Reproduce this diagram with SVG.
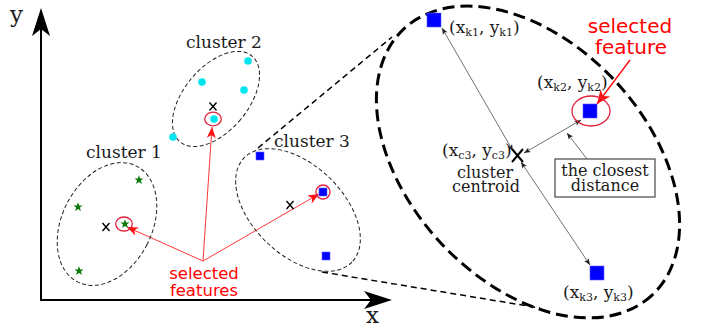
<svg xmlns="http://www.w3.org/2000/svg" width="706" height="331" viewBox="0 0 706 331">
<style>
.serif{font-family:"DejaVu Serif","Liberation Serif",serif;fill:#1a1a1a}
.sans{font-family:"DejaVu Sans","Liberation Sans",sans-serif}
.red{fill:#ff0000}
.cl{fill:none;stroke:#222;stroke-width:1;stroke-dasharray:4,2.5}
.sel{fill:none;stroke:#e0203c;stroke-width:1.3}
.cross{stroke:#000;stroke-width:1.4;fill:none}
.star{fill:#0a7a0a}
.dot{fill:#00e5ee}
.sq{fill:#0000ff;stroke:#5a5aff;stroke-width:0.6}
.rl{stroke:#ff2020;stroke-width:0.9;fill:none}
.bl{stroke:#333;stroke-width:0.7;fill:none}
.sub{font-size:11px}
</style>
<defs>
<marker id="ra" viewBox="-12 -6 14 12" refX="0" refY="0" markerWidth="14" markerHeight="12" markerUnits="userSpaceOnUse" orient="auto">
<path d="M0,0 L-11,-4.5 L-8,0 L-11,4.5 Z" fill="#ff1010"/>
</marker>
<marker id="ra2" viewBox="-16 -8 18 16" refX="0" refY="0" markerWidth="18" markerHeight="16" markerUnits="userSpaceOnUse" orient="auto">
<path d="M0,0 L-14,-6 L-10,0 L-14,6 Z" fill="#ff1010"/>
</marker>
<marker id="ba" viewBox="-8 -4 10 8" refX="0" refY="0" markerWidth="10" markerHeight="8" markerUnits="userSpaceOnUse" orient="auto-start-reverse">
<path d="M0,0 L-6.5,-2.6 L-5,0 L-6.5,2.6 Z" fill="#222"/>
</marker>
<path id="st" d="M0,-4.8 L1.2,-1.6 L4.6,-1.5 L1.9,0.6 L2.9,3.9 L0,2 L-2.9,3.9 L-1.9,0.6 L-4.6,-1.5 L-1.2,-1.6 Z"/>
</defs>

<g id="axes">
<line x1="41" y1="300" x2="41" y2="24" stroke="#000" stroke-width="2"/>
<path d="M41,8 L50,36 L41,29 L32,36 Z" fill="#000"/>
<line x1="40" y1="300" x2="376" y2="300" stroke="#000" stroke-width="2"/>
<path d="M392,300 L364,309 L371,300 L364,291 Z" fill="#000"/>
<text x="10" y="22" class="serif" font-size="23">y</text>
<text x="366" y="323" class="serif" font-size="23">x</text>
</g>

<g id="connectors">
<line x1="258" y1="148" x2="392" y2="37" stroke="#000" stroke-width="1.5" stroke-dasharray="6,4"/>
<line x1="322" y1="272" x2="540" y2="308" stroke="#000" stroke-width="1.5" stroke-dasharray="6,4"/>
<line class="rl" x1="203" y1="261" x2="127" y2="227" marker-end="url(#ra)"/>
<line class="rl" x1="203" y1="261" x2="212" y2="127" marker-end="url(#ra)"/>
<line class="rl" x1="203" y1="261" x2="319" y2="194" marker-end="url(#ra)"/>
<line x1="630" y1="60" x2="597" y2="104" stroke="#ff1010" stroke-width="1.4" marker-end="url(#ra2)"/>
<line class="bl" x1="442" y1="28" x2="513" y2="151" marker-start="url(#ba)" marker-end="url(#ba)"/>
<line class="bl" x1="521" y1="162" x2="590" y2="265" marker-start="url(#ba)" marker-end="url(#ba)"/>
<line class="bl" x1="524" y1="153" x2="581" y2="120" marker-start="url(#ba)" marker-end="url(#ba)"/>
<line class="bl" x1="587" y1="159" x2="567" y2="133" marker-end="url(#ba)"/>
</g>

<g id="cluster1">
<ellipse class="cl" cx="107" cy="224" rx="45" ry="65" transform="rotate(27 107 224)"/>
<text x="86" y="158" class="serif" font-size="17">cluster 1</text>
<use href="#st" class="star" x="139" y="180"/>
<use href="#st" class="star" x="78" y="207"/>
<use href="#st" class="star" x="79" y="271"/>
<use href="#st" class="star" x="125" y="224"/>
<ellipse class="sel" cx="124" cy="224" rx="8.3" ry="7"/>
<path class="cross" d="M102.5,223 L109.5,231 M109.5,223 L102.5,231"/>
</g>

<g id="cluster2">
<ellipse class="cl" cx="216" cy="99" rx="32" ry="56" transform="rotate(40 216 99)"/>
<text x="186" y="48" class="serif" font-size="17">cluster 2</text>
<circle class="dot" cx="248" cy="61" r="3.8"/>
<circle class="dot" cx="202" cy="82" r="3.8"/>
<circle class="dot" cx="244" cy="90" r="3.8"/>
<circle class="dot" cx="173" cy="137" r="3.8"/>
<circle class="dot" cx="214" cy="119" r="3.8"/>
<ellipse class="sel" cx="213" cy="119" rx="8.3" ry="6.8"/>
<path class="cross" d="M209.5,102.5 L216.5,110.5 M216.5,102.5 L209.5,110.5"/>
</g>

<g id="cluster3">
<ellipse class="cl" cx="298" cy="210" rx="75" ry="45" transform="rotate(44 298 210)"/>
<text x="274" y="147" class="serif" font-size="17">cluster 3</text>
<rect class="sq" x="256" y="152" width="8" height="8"/>
<rect class="sq" x="319" y="188" width="8" height="8"/>
<rect class="sq" x="322" y="252" width="8" height="8"/>
<circle class="sel" cx="323" cy="192" r="7"/>
<path class="cross" d="M286.5,201 L293.5,209 M293.5,201 L286.5,209"/>
</g>

<g id="selected-features">
<text x="204" y="279" class="sans red" font-size="16.5" text-anchor="middle">selected</text>
<text x="204" y="296" class="sans red" font-size="16.5" text-anchor="middle">features</text>
</g>

<g id="zoomed-cluster">
<ellipse cx="528" cy="162" rx="182" ry="119" transform="rotate(47 528 162)" fill="none" stroke="#000" stroke-width="3" stroke-dasharray="12,6"/>
</g>

<g id="k1">
<rect class="sq" x="427" y="13" width="14" height="14"/>
<text x="449" y="33" class="serif" font-size="17">(x<tspan class="sub" dy="3">k1</tspan><tspan dy="-3">, y</tspan><tspan class="sub" dy="3">k1</tspan><tspan dy="-3">)</tspan></text>
</g>

<g id="k2">
<rect class="sq" x="583" y="104" width="14" height="14"/>
<ellipse class="sel" cx="591" cy="111" rx="19" ry="15"/>
<text x="537" y="88" class="serif" font-size="17">(x<tspan class="sub" dy="3">k2</tspan><tspan dy="-3">, y</tspan><tspan class="sub" dy="3">k2</tspan><tspan dy="-3">)</tspan></text>
</g>

<g id="k3">
<rect class="sq" x="590" y="266" width="14" height="14"/>
<text x="563" y="298" class="serif" font-size="17">(x<tspan class="sub" dy="3">k3</tspan><tspan dy="-3">, y</tspan><tspan class="sub" dy="3">k3</tspan><tspan dy="-3">)</tspan></text>
</g>

<g id="centroid">
<path d="M512,149 L523,162 M523,149 L512,162" stroke="#000" stroke-width="2" fill="none"/>
<text x="442" y="156" class="serif" font-size="17">(x<tspan class="sub" dy="3">c3</tspan><tspan dy="-3">, y</tspan><tspan class="sub" dy="3">c3</tspan><tspan dy="-3">)</tspan></text>
<text x="485" y="178" class="serif" font-size="16" text-anchor="middle">cluster</text>
<text x="486" y="192" class="serif" font-size="16" text-anchor="middle">centroid</text>
</g>

<g id="closest-distance">
<rect x="555" y="159" width="100" height="38" fill="#fff" stroke="#555" stroke-width="1.3"/>
<text x="605" y="176" class="serif" font-size="16" text-anchor="middle">the closest</text>
<text x="605" y="191" class="serif" font-size="16" text-anchor="middle">distance</text>
</g>

<g id="selected-feature">
<text x="630" y="33" class="sans red" font-size="20" text-anchor="middle">selected</text>
<text x="631" y="54" class="sans red" font-size="20" text-anchor="middle">feature</text>
</g>
</svg>
